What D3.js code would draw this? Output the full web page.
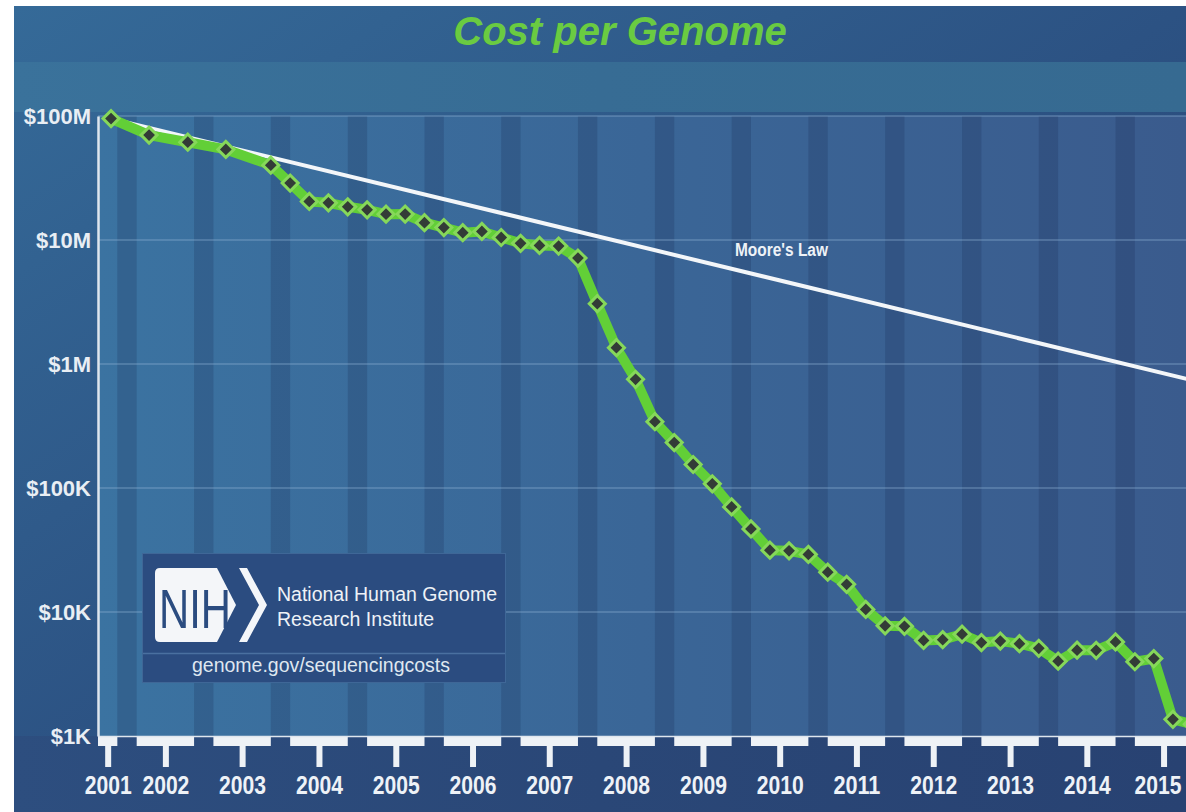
<!DOCTYPE html>
<html lang="en">
<head>
<meta charset="UTF-8">
<title>Cost per Genome</title>
<script src="https://d3js.org/d3.v7.min.js"></script>
<style>
    body {
        margin: 0;
        padding: 0;
        background: #fff;
    }

    svg {
        display: block;
        font-family: "Liberation Sans", Arial, sans-serif;
    }

    .y-axis text {
        font-size: 22px;
        font-weight: bold;
        fill: #e9eef4;
    }

    .x-axis text {
        font-size: 25px;
        font-weight: bold;
        fill: #eef2f7;
    }
</style>
</head>
<body>
<svg id="chart" width="1186" height="812"></svg>
<script>
    // cost per genome, NHGRI sequencing costs
    const dates = [
        "2001-09", "2002-03", "2002-09", "2003-03", "2003-10",
        "2004-01", "2004-04", "2004-07", "2004-10",
        "2005-01", "2005-04", "2005-07", "2005-10",
        "2006-01", "2006-04", "2006-07", "2006-10",
        "2007-01", "2007-04", "2007-07", "2007-10",
        "2008-01", "2008-04", "2008-07", "2008-10",
        "2009-01", "2009-04", "2009-07", "2009-10",
        "2010-01", "2010-04", "2010-07", "2010-10",
        "2011-01", "2011-04", "2011-07", "2011-10",
        "2012-01", "2012-04", "2012-07", "2012-10",
        "2013-01", "2013-04", "2013-07", "2013-10",
        "2014-01", "2014-04", "2014-07", "2014-10",
        "2015-01", "2015-04", "2015-07", "2015-10"
    ];
    const costs = [
        95263072, 70175437, 61448422, 53751684, 40157554,
        28780376, 20442576, 19934346, 18519312,
        17534970, 16159699, 16180224, 13801124,
        12585659, 11455315, 11732535, 10474556,
        9408739, 9047003, 8927342, 7147571,
        3063820, 1352982, 752080, 342502,
        232735, 154714, 108065, 70333,
        46774, 31512, 31125, 29092,
        20963, 16712, 10497, 7743,
        7666, 5901, 5985, 6618,
        5671, 5826, 5550, 5096,
        4008, 4920, 4905, 5731,
        3970, 4211, 1363, 1245
    ];

    // Moore's Law reference line (end points)
    const mooreDates = ["2001-09", "2015-10"];
    const mooreCosts = [95263072, 740000];

    const yTicks = [1e8, 1e7, 1e6, 1e5, 1e4, 1e3];
    const yTickLabels = ["$100M", "$10M", "$1M", "$100K", "$10K", "$1K"];
    const yearLabels = ["2001", "2002", "2003", "2004", "2005", "2006", "2007", "2008",
        "2009", "2010", "2011", "2012", "2013", "2014", "2015"];

    const W = 1186, H = 812;
    const plotLeft = 98, plotTop = 116, plotBottom = 736;

    const parse = d3.timeParse("%Y-%m");
    const svg = d3.select("#chart");

    const x = d3.scaleTime()
        .domain([parse("2001-07"), parse("2016-01")])
        .range([plotLeft, plotLeft + 14.5 * 76.8]);

    const y = d3.scaleLog()
        .domain([1e3, 1e8])
        .range([plotBottom, plotTop]);

    // gradients
    const defs = svg.append("defs");
    function grad(id, stops, x2, y2) {
        const g = defs.append("linearGradient").attr("id", id)
            .attr("x1", 0).attr("y1", 0).attr("x2", x2).attr("y2", y2);
        stops.forEach((c, i) => g.append("stop")
            .attr("offset", i / (stops.length - 1)).attr("stop-color", c));
    }
    grad("bgGrad", ["#356a98", "#2c5283", "#263e6e"], 1, 1);
    grad("bandGrad", ["#3a729b", "#376c94", "#366a91"], 1, 0);
    grad("plotGrad", ["#3b73a1", "#3a6697", "#3a5b8d"], 1, 0);
    grad("footGrad", ["#2d4e7f", "#2a4777", "#284272"], 1, 0);

    // backgrounds
    svg.append("rect").attr("x", 14).attr("y", 6).attr("width", W - 14).attr("height", H - 6)
        .attr("fill", "url(#bgGrad)");
    svg.append("rect").attr("x", 14).attr("y", 62).attr("width", W - 14).attr("height", 50)
        .attr("fill", "url(#bandGrad)");
    svg.append("rect").attr("x", plotLeft).attr("y", plotTop)
        .attr("width", W - plotLeft).attr("height", plotBottom - plotTop)
        .attr("fill", "url(#plotGrad)");
    svg.append("rect").attr("x", 14).attr("y", plotBottom).attr("width", W - 14).attr("height", H - plotBottom)
        .attr("fill", "url(#footGrad)");

    // year bands (Jan - Oct) and darker gaps (Oct - Jan)
    const bands = yearLabels.map(yr => {
        const start = parse(yr + "-01") < x.domain()[0] ? x.domain()[0] : parse(yr + "-01");
        return { label: yr, start: start, end: parse(yr + "-10"), next: parse((+yr + 1) + "-01") };
    });

    svg.append("g").selectAll("rect")
        .data(bands)
        .enter()
        .append("rect")
        .attr("x", d => x(d.end))
        .attr("y", plotTop)
        .attr("width", d => x(d.next) - x(d.end))
        .attr("height", plotBottom - plotTop)
        .attr("fill", "rgba(22, 40, 82, 0.22)");

    // grid lines
    svg.append("g").selectAll("line")
        .data(yTicks.slice(0, 5))
        .enter()
        .append("line")
        .attr("x1", plotLeft).attr("x2", W)
        .attr("y1", d => y(d)).attr("y2", d => y(d))
        .attr("stroke", "rgba(140, 175, 210, 0.45)")
        .attr("stroke-width", 1.5);

    // white year bars under the plot
    svg.append("g").selectAll("rect")
        .data(bands)
        .enter()
        .append("rect")
        .attr("x", d => x(d.start))
        .attr("y", plotBottom)
        .attr("width", d => x(d.end) - x(d.start))
        .attr("height", 10)
        .attr("fill", "#eef2f6");

    svg.append("line")
        .attr("x1", plotLeft).attr("x2", W)
        .attr("y1", plotBottom + 0.5).attr("y2", plotBottom + 0.5)
        .attr("stroke", "#dfe6ee").attr("stroke-width", 1.5);

    // x axis, ticks centred on the year bars
    const tickDates = bands.map(d => x.invert((x(d.start) + x(d.end)) / 2));
    const xAxis = svg.append("g")
        .attr("class", "x-axis")
        .attr("transform", `translate(0,${plotBottom + 10})`)
        .call(d3.axisBottom(x).tickValues(tickDates)
            .tickFormat((d, i) => yearLabels[i])
            .tickSize(21).tickPadding(9));
    xAxis.select(".domain").remove();
    xAxis.selectAll(".tick line").attr("stroke", "#eef2f6").attr("stroke-width", 6);
    xAxis.selectAll(".tick text")
        .attr("textLength", 47)
        .attr("lengthAdjust", "spacingAndGlyphs");
    // last label sits on the right edge
    xAxis.selectAll(".tick text").filter((d, i) => i === yearLabels.length - 1)
        .attr("x", -6);

    // y axis
    const yAxis = svg.append("g")
        .attr("class", "y-axis")
        .attr("transform", `translate(${plotLeft},0)`)
        .call(d3.axisLeft(y).tickValues(yTicks)
            .tickFormat((d, i) => yTickLabels[i])
            .tickSize(0).tickPadding(7));
    yAxis.select(".domain").attr("stroke", "#dfe6ee").attr("stroke-width", 2.5);

    // Moore's law
    const mooreData = mooreDates.map((d, i) => ({ date: parse(d), cost: mooreCosts[i] }));
    svg.append("path")
        .datum(mooreData)
        .attr("fill", "none")
        .attr("stroke", "#f3f6f9")
        .attr("stroke-width", 4)
        .attr("d", d3.line().x(d => x(d.date)).y(d => y(d.cost)));

    svg.append("text")
        .attr("x", 735).attr("y", 256)
        .attr("font-weight", "bold")
        .attr("font-size", 18)
        .attr("textLength", 93)
        .attr("lengthAdjust", "spacingAndGlyphs")
        .attr("fill", "#eef2f7")
        .text("Moore's Law");

    // cost per genome line
    const costData = dates.map((d, i) => ({ date: parse(d), cost: costs[i] }));
    svg.append("path")
        .datum(costData)
        .attr("fill", "none")
        .attr("stroke", "#62cf37")
        .attr("stroke-width", 10)
        .attr("stroke-linejoin", "round")
        .attr("d", d3.line().x(d => x(d.date)).y(d => y(d.cost)));

    svg.append("g").selectAll("path")
        .data(costData)
        .enter()
        .append("path")
        .attr("transform", d => `translate(${x(d.date)},${y(d.cost)}) rotate(45)`)
        .attr("d", d3.symbol(d3.symbolSquare, 128))
        .attr("fill", "#333c37")
        .attr("stroke", "#86d85a")
        .attr("stroke-width", 3);

    // title
    svg.append("text")
        .attr("x", 620).attr("y", 45)
        .attr("text-anchor", "middle")
        .attr("font-size", 40)
        .attr("font-weight", "bold")
        .attr("font-style", "italic")
        .attr("fill", "#6acb41")
        .text("Cost per Genome");

    // NIH box
    const nih = svg.append("g");
    nih.append("rect")
        .attr("x", 142.5).attr("y", 553.5).attr("width", 363).attr("height", 129)
        .attr("fill", "#2b4c80").attr("stroke", "#3f6797").attr("stroke-width", 1);
    nih.append("line")
        .attr("x1", 143).attr("x2", 505).attr("y1", 653.5).attr("y2", 653.5)
        .attr("stroke", "#4a70a0").attr("stroke-width", 1.5);
    nih.append("path")
        .attr("d", "M160,568 H217 L236,605 L217,642 H160 Q155,642 155,637 V573 Q155,568 160,568 Z")
        .attr("fill", "#f4f6f9");
    nih.append("path")
        .attr("d", "M239,568 H247 L267,605 L247,642 H239 L259,605 Z")
        .attr("fill", "#f4f6f9");
    nih.append("text")
        .attr("x", 159).attr("y", 628)
        .attr("font-size", 56)
        .attr("textLength", 72).attr("lengthAdjust", "spacingAndGlyphs")
        .attr("fill", "#2b4c80")
        .text("NIH");
    nih.append("text")
        .attr("x", 277).attr("y", 601)
        .attr("font-size", 19.5)
        .attr("fill", "#eef2f7")
        .text("National Human Genome");
    nih.append("text")
        .attr("x", 277).attr("y", 626)
        .attr("font-size", 19.5)
        .attr("fill", "#eef2f7")
        .text("Research Institute");
    nih.append("text")
        .attr("x", 321).attr("y", 672)
        .attr("text-anchor", "middle")
        .attr("font-size", 19.5)
        .attr("fill", "#dfe7f0")
        .text("genome.gov/sequencingcosts");
</script>
</body>
</html>
